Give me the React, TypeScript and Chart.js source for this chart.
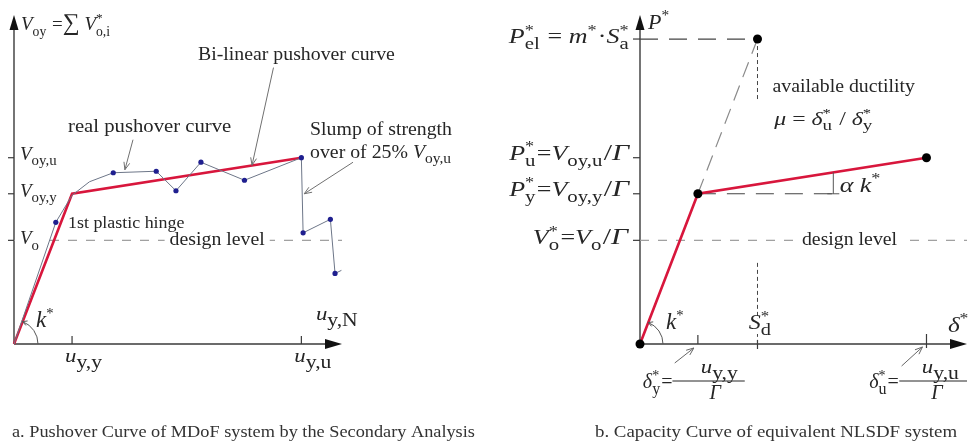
import React, { useEffect, useRef } from 'react';
import { Chart, registerables } from 'chart.js';

Chart.register(...registerables);

const FONT = '"Liberation Serif", "Times New Roman", serif';
const INK = '#262626';
const AXIS = '#3a3a3a';
const RED = '#d8163c';
const GREY_LINE = '#6d7688';
const DOT_BLUE = '#1f1f8f';
const DASH_GREY = '#9c9c9c';

// normalised units: yield displacement = 1, yield force = 1
const X_MAX = 5.65;
const Y_MAX = 2.19;

// real pushover curve of the MDoF model
const pushoverX = [0, 0.72, 1.0, 1.3, 1.71, 2.45, 2.79, 3.22, 3.97, 4.95, 4.98, 5.45, 5.53, 5.64];
const pushoverY = [0, 0.81, 0.99, 1.08, 1.14, 1.15, 1.02, 1.21, 1.09, 1.24, 0.74, 0.83, 0.47, 0.49];
const pushoverMarked = [0, 1, 0, 0, 1, 1, 1, 1, 1, 1, 1, 1, 1, 0];

// bi-linear idealisation (same shape for the capacity curve)
const bilinearX = [0, 1.0, 4.95];
const bilinearY = [0, 1.0, 1.24];

// characteristic levels
const U_YY = 1.0;
const U_YU = 4.95;
const V_OYY = 1.0;
const V_OYU = 1.24;
const V_O = 0.69;
const S_D = 2.03;
const P_EL = 2.03;
const YIELD_DASH_END = 3.38;
const SD_GAP = [0.54, 1.63];

type Seg = { t?: string; it?: boolean; k?: number; sup?: string; sub?: string };
type RichOpts = { align?: 'left' | 'right' | 'center'; bg?: boolean; sx?: number; ss?: number; color?: string };

const font = (size: number, it?: boolean) => `${it ? 'italic ' : ''}${size}px ${FONT}`;

function segWidth(ctx: CanvasRenderingContext2D, s: Seg, size: number, ss: number) {
  if (s.t !== undefined) {
    ctx.font = font(size * (s.k || 1), s.it);
    return ctx.measureText(s.t).width;
  }
  let w = 0;
  if (s.sup) { ctx.font = font(size * 0.7); w = Math.max(w, ctx.measureText(s.sup).width); }
  if (s.sub) { ctx.font = font(size * ss); w = Math.max(w, ctx.measureText(s.sub).width); }
  return w + 1;
}

function drawRich(ctx: CanvasRenderingContext2D, segs: Seg[], x: number, y: number, size: number, o: RichOpts = {}) {
  const sx = o.sx ?? 1;
  const ss = o.ss ?? 0.78;
  const widths = segs.map((s) => segWidth(ctx, s, size, ss) * sx);
  const total = widths.reduce((a, b) => a + b, 0);
  const align = o.align ?? 'left';
  let cx = align === 'left' ? x : align === 'right' ? x - total : x - total / 2;
  if (o.bg) {
    ctx.fillStyle = '#fff';
    ctx.fillRect(cx - 5, y - size * 0.5, total + 10, size * 0.75);
  }
  ctx.fillStyle = o.color ?? INK;
  ctx.textAlign = 'left';
  ctx.textBaseline = 'alphabetic';
  const put = (txt: string, px: number, py: number) => {
    ctx.save();
    ctx.translate(px, py);
    ctx.scale(sx, 1);
    ctx.fillText(txt, 0, 0);
    ctx.restore();
  };
  segs.forEach((s, i) => {
    if (s.t !== undefined) {
      ctx.font = font(size * (s.k || 1), s.it);
      put(s.t, cx, y);
    } else {
      if (s.sup) { ctx.font = font(size * 0.7); put(s.sup, cx, y - size * 0.42); }
      if (s.sub) { ctx.font = font(size * ss); put(s.sub, cx, y + size * 0.3); }
    }
    cx += widths[i];
  });
  return total;
}

function line(ctx: CanvasRenderingContext2D, x1: number, y1: number, x2: number, y2: number, color = AXIS, w = 1) {
  ctx.strokeStyle = color;
  ctx.lineWidth = w;
  ctx.setLineDash([]);
  ctx.beginPath();
  ctx.moveTo(x1, y1);
  ctx.lineTo(x2, y2);
  ctx.stroke();
}

function pointer(ctx: CanvasRenderingContext2D, x1: number, y1: number, x2: number, y2: number, color = '#707070') {
  line(ctx, x1, y1, x2, y2, color, 1);
  const a = Math.atan2(y2 - y1, x2 - x1);
  const h = 8;
  line(ctx, x2, y2, x2 - h * Math.cos(a - 0.38), y2 - h * Math.sin(a - 0.38), color, 1);
  line(ctx, x2, y2, x2 - h * Math.cos(a + 0.38), y2 - h * Math.sin(a + 0.38), color, 1);
}

function filledHead(ctx: CanvasRenderingContext2D, tx: number, ty: number, dir: 'up' | 'right') {
  ctx.fillStyle = '#111';
  ctx.beginPath();
  if (dir === 'up') {
    ctx.moveTo(tx, ty);
    ctx.lineTo(tx - 4.5, ty + 15);
    ctx.lineTo(tx + 4.5, ty + 15);
  } else {
    ctx.moveTo(tx, ty);
    ctx.lineTo(tx - 17, ty - 5);
    ctx.lineTo(tx - 17, ty + 5);
  }
  ctx.closePath();
  ctx.fill();
}

function axes(chart: Chart) {
  const ctx = chart.ctx;
  const xs = chart.scales.x;
  const ys = chart.scales.y;
  const ox = xs.getPixelForValue(0);
  const oy = ys.getPixelForValue(0);
  const top = ys.getPixelForValue(Y_MAX);
  const right = xs.getPixelForValue(X_MAX);
  line(ctx, ox, oy, ox, top + 6, AXIS, 1.4);
  line(ctx, ox, oy, right - 6, oy, AXIS, 1.4);
  filledHead(ctx, ox, top, 'up');
  filledHead(ctx, right, oy, 'right');
  return { xs, ys, ox, oy };
}

function angleArc(ctx: CanvasRenderingContext2D, ox: number, oy: number, r: number, slopePx: number) {
  const end = -Math.atan(slopePx);
  ctx.strokeStyle = '#555';
  ctx.lineWidth = 1;
  ctx.beginPath();
  ctx.arc(ox, oy, r, 0, end, true);
  ctx.stroke();
  const ex = ox + r * Math.cos(end);
  const ey = oy + r * Math.sin(end);
  const t = end - Math.PI / 2;
  line(ctx, ex, ey, ex - 5 * Math.cos(t - 0.5), ey - 5 * Math.sin(t - 0.5), '#555', 1);
  line(ctx, ex, ey, ex - 5 * Math.cos(t + 0.5), ey - 5 * Math.sin(t + 0.5), '#555', 1);
}

const TXT = { sx: 1.1 };
const MATH_R = { align: 'right' as const, sx: 1.3, ss: 0.8 };
const ULAB = { sx: 1.2, ss: 0.95 };

const leftAxesPlugin = {
  id: 'leftAxes',
  beforeDatasetsDraw(chart: Chart) {
    const { xs, ys, ox, oy } = axes(chart);
    const ctx = chart.ctx;
    [V_OYU, V_OYY, V_O].forEach((v) => line(ctx, ox - 6, ys.getPixelForValue(v), ox, ys.getPixelForValue(v), AXIS, 1.2));
    [U_YY, U_YU].forEach((u) => line(ctx, xs.getPixelForValue(u), oy - 8, xs.getPixelForValue(u), oy, AXIS, 1.2));
  },
  afterDatasetsDraw(chart: Chart) {
    const ctx = chart.ctx;
    const xs = chart.scales.x;
    const ys = chart.scales.y;
    const X = (v: number) => xs.getPixelForValue(v);
    const Y = (v: number) => ys.getPixelForValue(v);
    const ox = X(0);
    const oy = Y(0);

    drawRich(ctx, [{ t: 'V', it: true }, { sub: 'oy' }, { t: ' =' }, { t: '∑', k: 1.25 }, { t: ' ' }, { t: 'V', it: true }, { sup: '*', sub: 'o,i' }], ox + 7, Y(2.09), 19, { ss: 0.72 });

    drawRich(ctx, [{ t: 'V', it: true }, { sub: 'oy,u' }], ox + 6, Y(V_OYU) + 2, 19);
    drawRich(ctx, [{ t: 'V', it: true }, { sub: 'oy,y' }], ox + 6, Y(V_OYY) + 3, 19);
    drawRich(ctx, [{ t: 'V', it: true }, { sub: 'o' }], ox + 6, Y(V_O) + 4, 19, { bg: true });

    drawRich(ctx, [{ t: 'Bi-linear pushover curve' }], X(3.17), Y(1.89), 18, TXT);
    pointer(ctx, X(4.47), Y(1.84), X(4.1), Y(1.19));
    drawRich(ctx, [{ t: 'real pushover curve' }], X(0.93), Y(1.41), 18, { sx: 1.15 });
    pointer(ctx, X(2.05), Y(1.36), X(1.91), Y(1.16));
    drawRich(ctx, [{ t: 'Slump of strength' }], X(5.1), Y(1.39), 18, TXT);
    drawRich(ctx, [{ t: 'over of 25% ' }, { t: 'V', it: true }, { sub: 'oy,u' }], X(5.1), Y(1.24), 18, TXT);
    pointer(ctx, X(5.84), Y(1.21), X(5.0), Y(1.0));
    drawRich(ctx, [{ t: 'design level' }], X(3.5), Y(V_O) + 5, 18, { ...TXT, align: 'center', bg: true });
    drawRich(ctx, [{ t: '1st plastic hinge' }], X(0.93), Y(0.77), 16, { sx: 1.12 });

    angleArc(ctx, ox, oy, 24, (Y(0) - Y(1)) / (X(1) - X(0)));
    drawRich(ctx, [{ t: 'k', it: true, k: 1.1 }, { sup: '*' }], X(0.38), oy - 17, 21);
    drawRich(ctx, [{ t: 'u', it: true }, { sub: 'y,N' }], X(5.2), oy - 24, 19, ULAB);
    drawRich(ctx, [{ t: 'u', it: true }, { sub: 'y,y' }], X(U_YY) - 7, oy + 18, 19, ULAB);
    drawRich(ctx, [{ t: 'u', it: true }, { sub: 'y,u' }], X(U_YU) - 7, oy + 18, 19, ULAB);

    drawRich(ctx, [{ t: 'a. Pushover Curve of MDoF system by the Secondary Analysis' }], 12, 437, 17, { sx: 1.075, color: '#333' });
  },
};

const rightAxesPlugin = {
  id: 'rightAxes',
  beforeDatasetsDraw(chart: Chart) {
    const { xs, ys, ox, oy } = axes(chart);
    const ctx = chart.ctx;
    [P_EL, V_OYU, V_OYY, V_O].forEach((v) => line(ctx, ox - 7, ys.getPixelForValue(v), ox, ys.getPixelForValue(v), AXIS, 1.2));
    line(ctx, xs.getPixelForValue(U_YY), oy - 9, xs.getPixelForValue(U_YY), oy, AXIS, 1.2);
    line(ctx, xs.getPixelForValue(U_YU), oy - 10, xs.getPixelForValue(U_YU), oy + 4, AXIS, 1.2);
    line(ctx, xs.getPixelForValue(S_D), oy - 4, xs.getPixelForValue(S_D), oy + 5, AXIS, 1.2);
  },
  afterDatasetsDraw(chart: Chart) {
    const ctx = chart.ctx;
    const xs = chart.scales.x;
    const ys = chart.scales.y;
    const X = (v: number) => xs.getPixelForValue(v);
    const Y = (v: number) => ys.getPixelForValue(v);
    const ox = X(0);
    const oy = Y(0);

    drawRich(ctx, [{ t: 'P', it: true }, { sup: '*' }], ox + 8, Y(2.1), 20, { sx: 1.1 });
    drawRich(ctx, [{ t: 'P', it: true }, { sup: '*', sub: 'el' }, { t: ' = ' }, { t: 'm', it: true }, { sup: '*' }, { t: '·' }, { t: 'S', it: true }, { sup: '*', sub: 'a' }], ox - 10, Y(P_EL) + 4, 20, MATH_R);
    drawRich(ctx, [{ t: 'P', it: true }, { sup: '*', sub: 'u' }, { t: '=' }, { t: 'V', it: true }, { sub: 'oy,u' }, { t: '/', k: 1.15 }, { t: 'Γ', it: true, k: 1.15 }], ox - 11, Y(V_OYU) + 2, 20, MATH_R);
    drawRich(ctx, [{ t: 'P', it: true }, { sup: '*', sub: 'y' }, { t: '=' }, { t: 'V', it: true }, { sub: 'oy,y' }, { t: '/', k: 1.15 }, { t: 'Γ', it: true, k: 1.15 }], ox - 11, Y(V_OYY) + 2, 20, MATH_R);
    drawRich(ctx, [{ t: 'V', it: true }, { sup: '*', sub: 'o' }, { t: '=' }, { t: 'V', it: true }, { sub: 'o' }, { t: '/', k: 1.15 }, { t: 'Γ', it: true, k: 1.15 }], ox - 12, Y(V_O) + 4, 20, MATH_R);

    drawRich(ctx, [{ t: 'available ductility' }], X(2.29), Y(1.68), 18, TXT);
    drawRich(ctx, [{ t: 'μ', it: true }, { t: ' = ' }, { t: 'δ', it: true }, { sup: '*', sub: 'u' }, { t: ' / ' }, { t: 'δ', it: true }, { sup: '*', sub: 'y' }], X(2.32), Y(1.46), 19, { sx: 1.25, ss: 0.8 });

    // alpha·k* marker between the hardening branch and the yield level
    const mx = X(3.34);
    const redY = Y(bilinearY[1] + ((3.34 - bilinearX[1]) * (bilinearY[2] - bilinearY[1])) / (bilinearX[2] - bilinearX[1]));
    line(ctx, mx, Y(1.0), mx, redY, '#555', 1);
    line(ctx, mx - 6, Y(1.0), mx + 6, Y(1.0), '#555', 1);
    drawRich(ctx, [{ t: 'α', it: true }, { t: ' ' }, { t: 'k', it: true }, { sup: '*' }], X(3.45), Y(1.0) - 2, 20, { sx: 1.3 });

    drawRich(ctx, [{ t: 'design level' }], X(3.62), Y(V_O) + 5, 18, { ...TXT, align: 'center', bg: true });

    angleArc(ctx, ox, oy, 23, (Y(0) - Y(1)) / (X(1) - X(0)));
    drawRich(ctx, [{ t: 'k', it: true, k: 1.1 }, { sup: '*' }], X(0.45), oy - 15, 21);
    drawRich(ctx, [{ t: 'S', it: true }, { sup: '*', sub: 'd' }], X(S_D) + 3, oy - 15, 20, { align: 'center', bg: true, sx: 1.2, ss: 0.85 });
    drawRich(ctx, [{ t: 'δ', it: true }, { sup: '*' }], X(5.32), oy - 12, 21, { sx: 1.2 });

    // delta*_y = u_y,y / Gamma
    const fy = oy + 37;
    drawRich(ctx, [{ t: 'δ', it: true }, { sup: '*', sub: 'y' }, { t: '=' }], X(0.56), fy + 7, 20, { align: 'right', ss: 0.8 });
    line(ctx, X(0.56), fy, X(1.81), fy, INK, 1);
    drawRich(ctx, [{ t: 'u', it: true }, { sub: 'y,y' }], X(1.38), fy - 8, 19, { ...ULAB, align: 'center' });
    drawRich(ctx, [{ t: 'Γ', it: true }], X(1.3), fy + 18, 20, { align: 'center' });
    pointer(ctx, X(0.6), oy + 19, X(0.93), oy + 4, '#666');

    // delta*_u = u_y,u / Gamma
    drawRich(ctx, [{ t: 'δ', it: true }, { sup: '*', sub: 'u' }, { t: '=' }], X(4.47), fy + 7, 20, { align: 'right', ss: 0.8 });
    line(ctx, X(4.48), fy, X(5.65), fy, INK, 1);
    drawRich(ctx, [{ t: 'u', it: true }, { sub: 'y,u' }], X(5.2), fy - 8, 19, { ...ULAB, align: 'center' });
    drawRich(ctx, [{ t: 'Γ', it: true }], X(5.13), fy + 18, 20, { align: 'center' });
    pointer(ctx, X(4.52), oy + 22, X(4.88), oy + 3, '#666');

    drawRich(ctx, [{ t: 'b. Capacity Curve of equivalent NLSDF system' }], 595 - 486, 437, 17, { sx: 1.11, color: '#333' });
  },
};

const pts = (xs: number[], ys: number[]) => xs.map((x, i) => ({ x, y: ys[i] }));

const baseOptions = (padding: { left: number; right: number; top: number; bottom: number }) => ({
  responsive: false,
  animation: false as const,
  events: [] as any[],
  layout: { padding },
  plugins: { legend: { display: false }, tooltip: { enabled: false } },
  scales: {
    x: { type: 'linear' as const, min: 0, max: X_MAX, display: false },
    y: { type: 'linear' as const, min: 0, max: Y_MAX, display: false },
  },
});

const LEFT_W = 600;
const RIGHT_W = 486;

export default function App() {
  const leftRef = useRef<HTMLCanvasElement>(null);
  const rightRef = useRef<HTMLCanvasElement>(null);

  useEffect(() => {
    const left = new Chart(leftRef.current!, {
      type: 'line',
      data: {
        datasets: [
          {
            data: pts(bilinearX, bilinearY),
            borderColor: RED,
            borderWidth: 2.6,
            pointRadius: 0,
            order: 1,
            clip: false,
          } as any,
          {
            data: pts(pushoverX, pushoverY),
            borderColor: GREY_LINE,
            borderWidth: 1,
            pointRadius: pushoverMarked.map((m) => (m ? 2.6 : 0)),
            pointBackgroundColor: DOT_BLUE,
            pointBorderWidth: 0,
            order: 0,
            clip: false,
          },
          {
            data: pts([0, X_MAX], [V_O, V_O]),
            borderColor: DASH_GREY,
            borderWidth: 1.2,
            borderDash: [9, 9],
            pointRadius: 0,
            order: 3,
            clip: false,
          },
        ],
      },
      options: baseOptions({ left: 14, right: LEFT_W - 342, top: 15, bottom: 101 }) as any,
      plugins: [leftAxesPlugin],
    });

    const right = new Chart(rightRef.current!, {
      type: 'line',
      data: {
        datasets: [
          {
            data: pts(bilinearX, bilinearY),
            borderColor: RED,
            borderWidth: 2.6,
            pointRadius: 4.5,
            pointBackgroundColor: '#000',
            pointBorderWidth: 0,
            order: 0,
            clip: false,
          },
          {
            data: pts([U_YY, S_D], [V_OYY, P_EL]),
            borderColor: '#8a8a8a',
            borderWidth: 1.2,
            borderDash: [16, 9],
            pointRadius: [0, 4.5],
            pointBackgroundColor: '#000',
            pointBorderWidth: 0,
            order: 1,
            clip: false,
          },
          {
            data: pts([0, S_D], [P_EL, P_EL]),
            borderColor: '#444',
            borderWidth: 1.2,
            borderDash: [18, 11],
            pointRadius: 0,
            order: 2,
            clip: false,
          },
          {
            data: pts([S_D, S_D], [P_EL, SD_GAP[1]]),
            borderColor: '#444',
            borderWidth: 1,
            borderDash: [4, 3],
            pointRadius: 0,
            order: 2,
            clip: false,
          },
          {
            data: pts([S_D, S_D], [SD_GAP[0], 0]),
            borderColor: '#444',
            borderWidth: 1,
            borderDash: [4, 3],
            pointRadius: 0,
            order: 2,
            clip: false,
          },
          {
            data: pts([U_YY, YIELD_DASH_END], [V_OYY, V_OYY]),
            borderColor: '#444',
            borderWidth: 1.2,
            borderDash: [18, 11],
            pointRadius: 0,
            order: 2,
            clip: false,
          },
          {
            data: pts([0, X_MAX], [V_O, V_O]),
            borderColor: DASH_GREY,
            borderWidth: 1.2,
            borderDash: [9, 9],
            pointRadius: 0,
            order: 3,
            clip: false,
          },
        ],
      },
      options: baseOptions({ left: 154, right: 5, top: 15, bottom: 101 }) as any,
      plugins: [rightAxesPlugin],
    });

    return () => {
      left.destroy();
      right.destroy();
    };
  }, []);

  return (
    <div style={{ position: 'fixed', left: 0, top: 0, width: 972, height: 445, background: '#fff', overflow: 'hidden' }}>
      <canvas ref={leftRef} width={LEFT_W} height={445} style={{ position: 'absolute', left: 0, top: 0 }} />
      <canvas ref={rightRef} width={RIGHT_W} height={445} style={{ position: 'absolute', left: 972 - RIGHT_W, top: 0 }} />
    </div>
  );
}
